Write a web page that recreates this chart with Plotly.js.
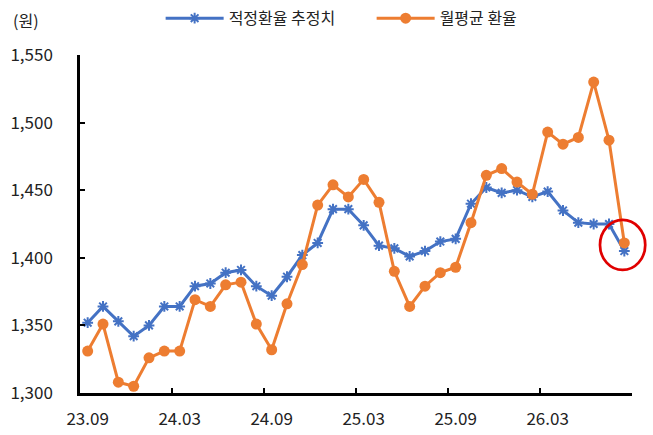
<!DOCTYPE html>
<html>
<head>
<meta charset="utf-8">
<script src="https://cdn.plot.ly/plotly-3.0.1.min.js"></script>
<style>
  html, body { margin: 0; padding: 0; background: #fff; }
  #chart { width: 653px; height: 435px; }
</style>
</head>
<body>
<div id="chart"></div>
<script>
const months = [
  '23.09', '23.10', '23.11', '23.12', '24.01', '24.02',
  '24.03', '24.04', '24.05', '24.06', '24.07', '24.08',
  '24.09', '24.10', '24.11', '24.12', '25.01', '25.02',
  '25.03', '25.04', '25.05', '25.06', '25.07', '25.08',
  '25.09', '25.10', '25.11', '25.12', '26.01', '26.02',
  '26.03', '26.04', '26.05', '26.06', '26.07', '26.08',
];

// 적정환율 추정치
const fairRate = [
  1352, 1364, 1353, 1342, 1350, 1364,
  1364, 1379, 1381, 1389, 1391, 1379,
  1372, 1386, 1402, 1411, 1436, 1436,
  1424, 1409, 1407, 1401, 1405, 1412,
  1414, 1440, 1452, 1448, 1450, 1445,
  1449, 1435, 1426, 1425, 1425, 1405,
];

// 월평균 환율
const avgRate = [
  1331, 1351, 1308, 1305, 1326, 1331,
  1331, 1369, 1364, 1380, 1382, 1351,
  1332, 1366, 1395, 1439, 1454, 1445,
  1458, 1441, 1390, 1364, 1379, 1389,
  1393, 1426, 1461, 1466, 1456, 1447,
  1493, 1484, 1489, 1530, 1487, 1411,
];

const FONT = '"Noto Sans CJK KR", "Noto Sans", sans-serif';
const chartDiv = document.getElementById('chart');

Plotly.newPlot(chartDiv, [{
  x: months, y: fairRate,
  type: 'scatter',
  mode: 'lines+markers',
  name: '적정환율 추정치',
  line: { color: '#4472C4', width: 3 },
  marker: { symbol: 'asterisk-open', size: 9, line: { color: '#4472C4', width: 2 } },
}, {
  x: months, y: avgRate,
  type: 'scatter',
  mode: 'lines+markers',
  name: '월평균 환율',
  line: { color: '#ED7D31', width: 3 },
  marker: { symbol: 'circle', size: 11, color: '#ED7D31' },
}], {
  width: 653,
  height: 435,
  paper_bgcolor: '#fff',
  plot_bgcolor: '#fff',
  margin: { t: 55, r: 21, b: 42, l: 80 },
  font: { family: FONT, size: 16, color: '#222' },
  xaxis: {
    type: 'category',
    range: [-0.5, 35.5],
    tickmode: 'linear', tick0: 0, dtick: 6,
    tickson: 'boundaries',
    tickangle: 0,
    ticks: 'inside', ticklen: 5, tickwidth: 2, tickcolor: '#000',
    showline: true, linecolor: '#000', linewidth: 2.5,
    showgrid: false, zeroline: false,
    ticklabelstandoff: 9,
    tickfont: { size: 17 },
  },
  yaxis: {
    range: [1300, 1550],
    dtick: 50,
    tickformat: ',d',
    ticks: 'inside', ticklen: 5, tickwidth: 2, tickcolor: '#000',
    showline: true, linecolor: '#000', linewidth: 2.5,
    showgrid: false, zeroline: false,
    ticklabelstandoff: 21,
    tickfont: { size: 17 },
  },
  showlegend: true,
  legend: {
    orientation: 'h',
    xref: 'container', yref: 'container',
    x: 0.246, xanchor: 'left',
    y: 0.958, yanchor: 'middle',
    itemwidth: 58,
    entrywidth: 138,
    font: { size: 16 },
  },
  annotations: [{
    text: '(원)',
    xref: 'paper', yref: 'paper',
    x: -0.125, y: 1.105,
    xanchor: 'left', yanchor: 'middle',
    showarrow: false,
    font: { size: 16 },
  }],
  shapes: [{
    // 최근 월 강조
    type: 'circle',
    xref: 'paper', yref: 'paper',
    x0: 0.942, x1: 1.024,
    y0: 0.364, y1: 0.512,
    line: { color: '#E00000', width: 2.7 },
  }],
}, { displayModeBar: false });
</script>
</body>
</html>
